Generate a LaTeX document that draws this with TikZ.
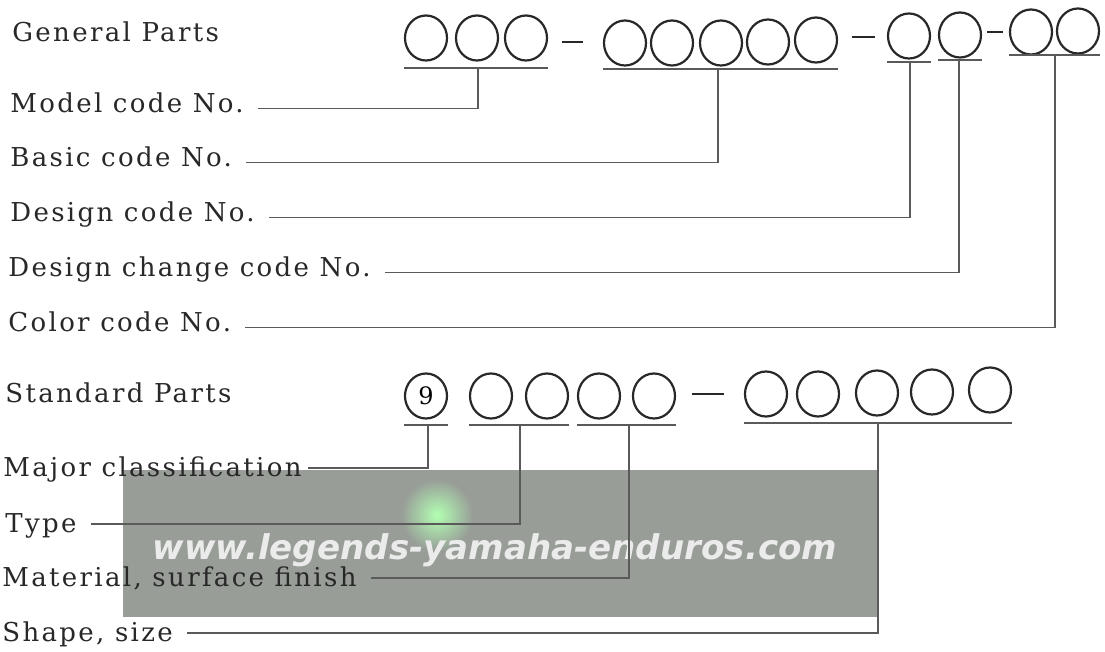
\documentclass[tikz,border=0pt]{standalone}
\usepackage{fontspec}
\setmainfont{DejaVu Serif}[LetterSpace=9]
\newfontfamily\plainrm{DejaVu Serif}
\newfontfamily\markfont{DejaVu Sans Bold Oblique}
\usepackage{graphicx}
\usepackage{xcolor}
\usetikzlibrary{shapes.geometric}
\definecolor{ink}{RGB}{40,40,40}
\definecolor{leadgray}{RGB}{90,90,90}
\definecolor{veil}{RGB}{152,157,152}

\begin{document}
\begin{tikzpicture}[x=0.5pt,y=-0.5pt,
        digit/.style={draw=ink,line width=1.1pt,ellipse,minimum width=21pt,minimum height=22.5pt,inner sep=0pt},
        lbl/.style={anchor=base west,inner sep=0pt,text=ink,font=\fontsize{13}{15}\selectfont},
        sep/.style={inner sep=0pt,text=ink}
    ]
    \useasboundingbox (0,0) rectangle (1105,652);

    % watermark band
    \fill[veil] (123,470) rectangle (879,617);
    \shade[inner color=green!30!white,outer color=veil] (437,515) circle (18pt);
    \node[inner sep=0pt,text=white!80!veil] (wm) at (495,550)
        {\resizebox{342pt}{!}{\markfont www.legends-yamaha-enduros.com}};

    % general parts
    \node[lbl] (lg) at (12,42) {General Parts};
    \node[digit] (m1) at (426,38) {};
    \node[digit] (m2) at (477,38) {};
    \node[digit] (m3) at (526,38) {};
    \node[sep]   (s1) at (572,42) {\rule{10.5pt}{0.9pt}};
    \node[digit] (b1) at (625,43) {};
    \node[digit] (b2) at (672,43) {};
    \node[digit] (b3) at (721,43) {};
    \node[digit] (b4) at (768,42) {};
    \node[digit] (b5) at (816,40) {};
    \node[sep]   (s2) at (863,37) {\rule{11.5pt}{0.9pt}};
    \node[digit] (d1) at (909,36) {};
    \node[digit] (c1) at (960,35) {};
    \node[sep]   (s3) at (995,32) {\rule{8pt}{0.9pt}};
    \node[digit] (k1) at (1031,32) {};
    \node[digit] (k2) at (1078,31) {};

    \coordinate (jm) at (478,68);
    \coordinate (jb) at (718,69);
    \coordinate (jd) at (910,62);
    \coordinate (jc) at (959,60);
    \coordinate (jk) at (1055,55);

    \node[lbl] (lm) at (10,113) {Model code No.};
    \node[lbl] (lb) at (10,167) {Basic code No.};
    \node[lbl] (ld) at (10,222) {Design code No.};
    \node[lbl] (lc) at (8,277)  {Design change code No.};
    \node[lbl] (lk) at (8,332)  {Color code No.};

    % standard parts
    \node[lbl] (ls) at (5,403) {Standard Parts};
    \node[digit] (n9) at (426,396) {\plainrm\fontsize{12}{12}\selectfont 9};
    \node[digit] (t1) at (491,396) {};
    \node[digit] (t2) at (547,396) {};
    \node[digit] (u1) at (599,396) {};
    \node[digit] (u2) at (654,396) {};
    \node[sep]   (s4) at (708,394) {\rule{16pt}{0.9pt}};
    \node[digit] (v1) at (766,394) {};
    \node[digit] (v2) at (818,394) {};
    \node[digit] (v3) at (877,393) {};
    \node[digit] (v4) at (932,392) {};
    \node[digit] (v5) at (990,390) {};

    \coordinate (jn) at (428,425);
    \coordinate (jt) at (520,425);
    \coordinate (ju) at (629,425);
    \coordinate (jv) at (878,423);

    \node[lbl] (la) at (3,477) {Major classification};
    \node[lbl] (lt) at (5,533) {Type};
    \node[lbl] (lf) at (2,587) {Material, surface finish};
    \node[lbl] (lz) at (2,642) {Shape, size};

    \begin{scope}[leadgray,line width=0.7pt]
        \draw (m1.west |- jm) -- (m3.east |- jm);
        \draw (b1.west |- jb) -- (b5.east |- jb);
        \draw (d1.west |- jd) -- (d1.east |- jd);
        \draw (c1.west |- jc) -- (c1.east |- jc);
        \draw (k1.west |- jk) -- (k2.east |- jk);
        \draw ([xshift=7pt,yshift=2.2pt]lm.base east) -| (jm);
        \draw ([xshift=7pt,yshift=2.2pt]lb.base east) -| (jb);
        \draw ([xshift=7pt,yshift=2.2pt]ld.base east) -| (jd);
        \draw ([xshift=7pt,yshift=2.2pt]lc.base east) -| (jc);
        \draw ([xshift=7pt,yshift=2.2pt]lk.base east) -| (jk);

        \draw (n9.west |- jn) -- (n9.east |- jn);
        \draw (t1.west |- jt) -- (t2.east |- jt);
        \draw (u1.west |- ju) -- (u2.east |- ju);
        \draw (v1.west |- jv) -- (v5.east |- jv);
        \draw ([xshift=3pt,yshift=4.5pt]la.base east) -| (jn);
        \draw ([xshift=7pt,yshift=4.5pt]lt.base east) -| (jt);
        \draw ([xshift=7pt,yshift=4.5pt]lf.base east) -| (ju);
        \draw ([xshift=7pt,yshift=4.5pt]lz.base east) -| (jv);
    \end{scope}
\end{tikzpicture}
\end{document}
